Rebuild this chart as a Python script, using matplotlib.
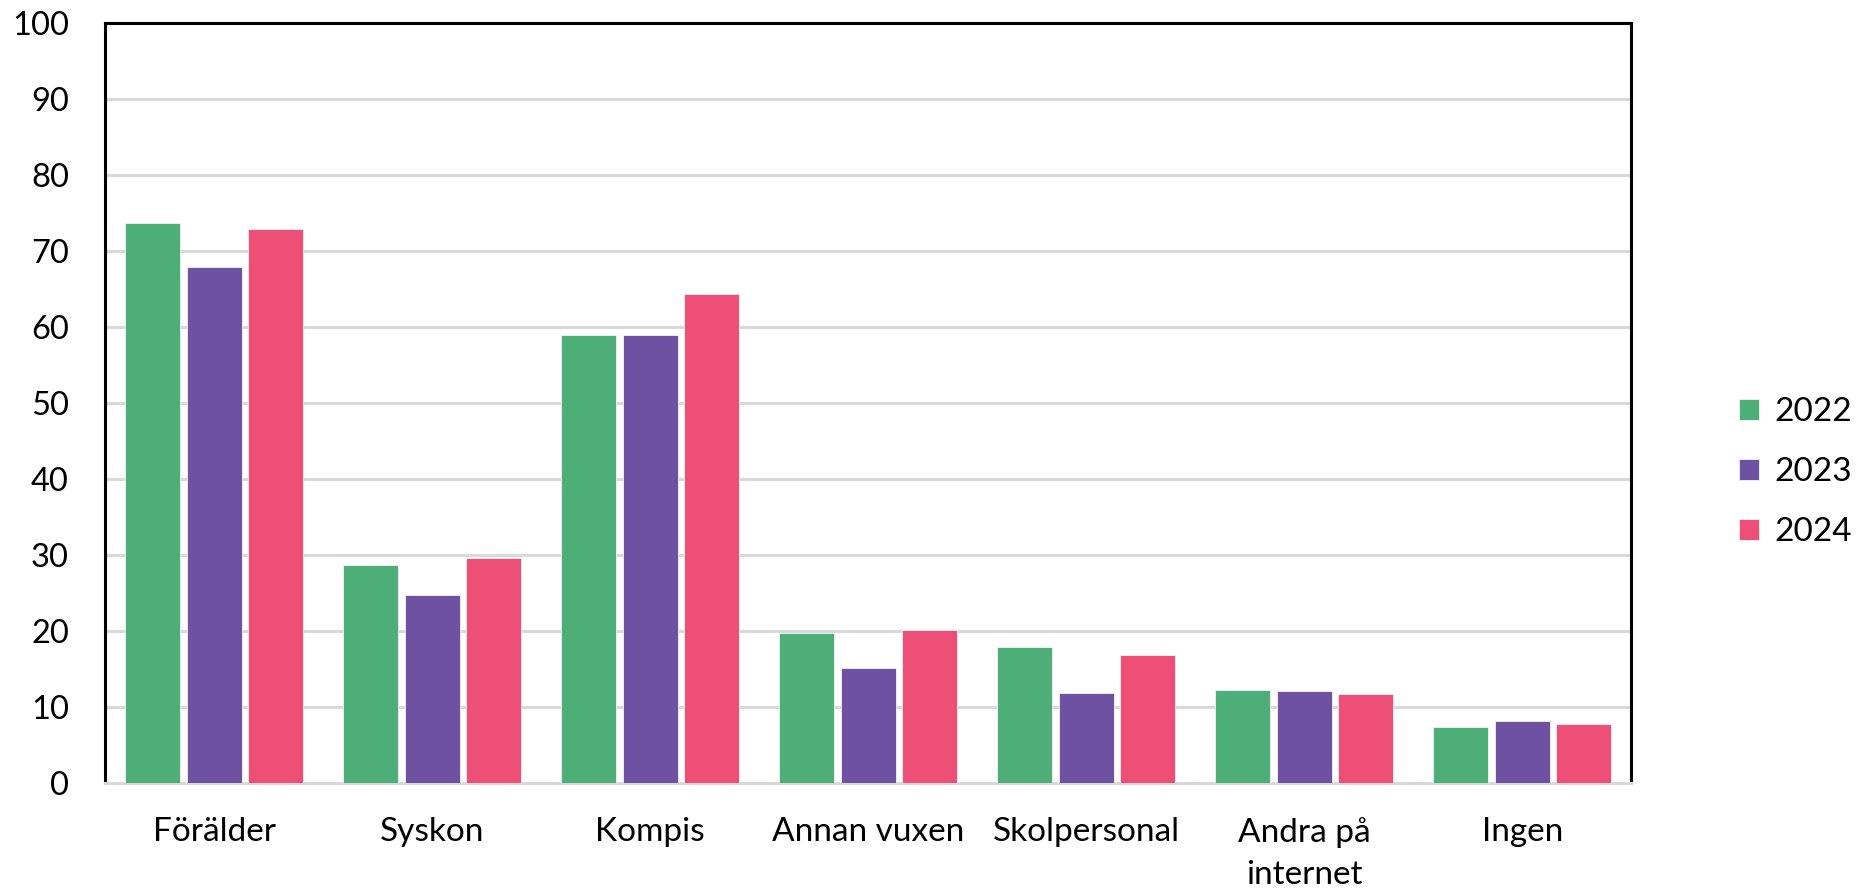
import matplotlib
matplotlib.use("Agg")
import matplotlib.pyplot as plt
import numpy as np

categories = ["Förälder", "Syskon", "Kompis", "Annan vuxen", "Skolpersonal", "Andra på\ninternet", "Ingen"]
years = ["2022", "2023", "2024"]
v2022 = [73.7, 28.7, 59.0, 19.8, 17.9, 12.3, 7.4]
v2023 = [67.9, 24.8, 59.0, 15.2, 11.9, 12.1, 8.2]
v2024 = [72.9, 29.6, 64.3, 20.2, 16.9, 11.7, 7.8]
colors = ["#4DAE78", "#6E52A1", "#EE4F77"]

plt.rcParams['font.family'] = ['Lato', 'DejaVu Sans']

fig = plt.figure(figsize=(18.6, 8.88), dpi=100)
ax = fig.add_axes([0.0565, 0.118, 0.8205, 0.856])

x = np.arange(len(categories))
step = 0.281
for i, (vals, c, lab) in enumerate(zip([v2022, v2023, v2024], colors, years)):
    ax.bar(x + (i - 1) * step, vals, width=0.252, color=c, edgecolor="#f4f4f4",
           linewidth=0.6, label=lab, zorder=3)

ax.set_xlim(-0.5, len(categories) - 0.5)
ax.set_ylim(0, 100)
ax.set_yticks(np.arange(0, 101, 10))
ax.yaxis.grid(True, color="#d9d9d9", linewidth=2.2, zorder=0)
ax.set_axisbelow(True)
ax.set_xticks(x)
ax.set_xticklabels(categories, fontsize=24, linespacing=1.5)
ax.tick_params(axis="y", labelsize=23.5, length=0, pad=26)
ax.tick_params(axis="x", length=0, pad=24.5)
for t in ax.get_xticklabels():
    t.set_verticalalignment("top")

for s in ["left", "top", "right"]:
    ax.spines[s].set_color("black")
    ax.spines[s].set_linewidth(2.2)
ax.spines["bottom"].set_color("#d9d9d9")
ax.spines["bottom"].set_linewidth(2.2)

leg = fig.legend(loc="center left", bbox_to_anchor=(0.935, 0.468), frameon=False,
                 fontsize=24, handlelength=0.6, handleheight=0.6, handletextpad=0.45,
                 labelspacing=0.9, borderaxespad=0, borderpad=0)

fig.savefig("out.png", dpi=100, facecolor="white")
